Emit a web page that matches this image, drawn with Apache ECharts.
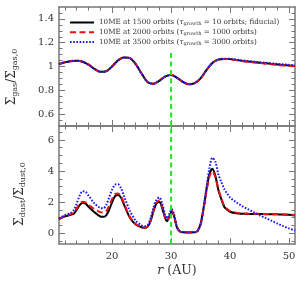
<!DOCTYPE html>
<html><head><meta charset="utf-8">
<script src="https://cdn.jsdelivr.net/npm/echarts@6/dist/echarts.min.js"></script>
<style>html,body{margin:0;padding:0;background:#fff}#c{width:299px;height:284px}</style>
</head><body><div id="c"></div>
<script>
const seriesNames = ['10ME at 1500 orbits', '10ME at 2000 orbits', '10ME at 3500 orbits'];
const legendTau = ['10 orbits; fiducial', '1000 orbits', '3000 orbits'];

const rGas = [11,12,13,14,15,16,17,18,19,20,21,22,23,24,25,26,27,28,29,30,31,32,33,34,35,36,37,38,39,40,41,42,43,44,45,46,47,48,49,50,51];
const gasBlack = [1.020,1.035,1.045,1.048,1.040,1.015,0.980,0.955,0.960,1.000,1.050,1.075,1.070,1.020,0.940,0.870,0.855,0.880,0.915,0.928,0.905,0.870,0.850,0.860,0.900,0.970,1.030,1.058,1.064,1.062,1.055,1.048,1.042,1.037,1.032,1.027,1.022,1.017,1.012,1.008,1.004];
const gasRed   = [1.020,1.036,1.046,1.049,1.041,1.016,0.981,0.956,0.961,1.002,1.052,1.076,1.071,1.021,0.941,0.871,0.856,0.882,0.917,0.930,0.906,0.871,0.851,0.861,0.901,0.970,1.030,1.058,1.064,1.061,1.054,1.046,1.040,1.034,1.029,1.024,1.019,1.014,1.009,1.005,1.001];
const gasBlue  = [1.021,1.036,1.046,1.048,1.040,1.015,0.980,0.955,0.960,1.001,1.051,1.075,1.070,1.020,0.940,0.870,0.855,0.881,0.916,0.929,0.906,0.871,0.851,0.861,0.901,0.971,1.031,1.059,1.066,1.064,1.058,1.051,1.046,1.041,1.036,1.031,1.027,1.022,1.018,1.014,1.010];

const rDust = [11,12,13,13.5,14,14.5,15,15.5,16,17,18,18.5,19,19.5,20,20.5,21,21.5,22,23,24,25,25.5,26,26.5,27,27.5,28,28.5,29,29.3,29.7,30.1,30.5,31,31.5,32,33,34,34.5,35,35.5,36,36.5,37,37.5,38,38.5,39,39.5,40,41,42,43,44,45,46,47,48,49,50,51];
const dustBlack = [0.90,1.08,1.18,1.25,1.50,1.80,1.95,1.90,1.70,1.35,1.07,1.05,1.15,1.50,2.00,2.38,2.45,2.30,1.85,1.00,0.55,0.38,0.34,0.40,0.75,1.40,1.90,2.00,1.60,0.95,0.77,1.05,1.40,1.10,0.35,0.10,0.05,0.04,0.05,0.15,0.60,1.60,2.80,3.80,4.15,3.70,2.80,2.20,1.70,1.50,1.38,1.28,1.25,1.24,1.23,1.23,1.22,1.22,1.21,1.20,1.18,1.14];
const dustRed   = [0.92,1.10,1.22,1.32,1.60,1.90,2.02,1.98,1.82,1.55,1.35,1.33,1.42,1.75,2.20,2.52,2.56,2.40,1.95,1.05,0.58,0.40,0.36,0.42,0.80,1.45,1.95,2.10,1.70,1.00,0.82,1.10,1.45,1.12,0.35,0.10,0.05,0.04,0.05,0.14,0.55,1.55,2.70,3.65,3.97,3.60,2.85,2.25,1.78,1.55,1.42,1.32,1.28,1.26,1.25,1.24,1.23,1.22,1.21,1.20,1.19,1.17];
const dustBlue  = [0.95,1.15,1.30,1.48,1.90,2.42,2.70,2.66,2.42,1.92,1.62,1.60,1.80,2.30,2.80,3.12,3.15,2.90,2.40,1.45,0.80,0.50,0.45,0.52,0.92,1.62,2.15,2.30,1.90,1.15,0.95,1.25,1.55,1.20,0.40,0.12,0.06,0.05,0.05,0.14,0.55,1.60,2.95,4.20,4.85,4.60,3.80,3.30,2.86,2.55,2.30,2.00,1.75,1.55,1.35,1.15,0.98,0.80,0.62,0.45,0.30,0.17];

const xMajor = [20,30,40,50];
const xMinor = [12,14,16,18,22,24,26,28,32,34,36,38,42,44,46,48];
const gasMajor = [0.6,0.8,1,1.2,1.4];
const gasMinor = [0.55,0.65,0.7,0.75,0.85,0.9,0.95,1.05,1.1,1.15,1.25,1.3,1.35,1.45];
const dustMajor = [0,2,4,6];
const dustMinor = [-0.5,0.5,1,1.5,2.5,3,3.5,4.5,5,5.5,6.5];
const vLineR = 30;
const vLineGasTop = 1.14;   // the dashed line stops below the legend box

const FONT = 'DejaVu Serif';
const FRAME = '#777';
const TXT = '#333';

function zip(a, b) { return a.map((v, i) => [v, b[i]]); }

const grids = [
  {left: 59, top: 7, width: 236, height: 119},
  {left: 59, top: 126, width: 236, height: 118}
];

const xAxes = [], yAxes = [];
const xr = {min: 11, max: 51};
const yr = [{min: 0.5, max: 1.5}, {min: -0.7, max: 6.9}];
const yMaj = [gasMajor, dustMajor], yMin = [gasMinor, dustMinor];

for (let g = 0; g < 2; g++) {
  ['bottom', 'top'].forEach(pos => {
    const showLabel = (g === 1 && pos === 'bottom');
    xAxes.push({
      type: 'value', gridIndex: g, position: pos, min: xr.min, max: xr.max,
      axisLine: {show: true, onZero: false, lineStyle: {color: FRAME, width: 1.5}},
      axisTick: {show: true, inside: true, length: 6, customValues: xMajor, lineStyle: {color: FRAME, width: 1}},
      axisLabel: {show: showLabel, customValues: xMajor, color: TXT, fontFamily: FONT, fontSize: 10, margin: 7},
      splitLine: {show: false},
      name: showLabel ? '{i|r} (AU)' : '',
      nameLocation: 'middle', nameGap: 20,
      nameTextStyle: {fontFamily: FONT, fontSize: 12.5, color: TXT, rich: {i: {fontFamily: FONT, fontStyle: 'italic', fontSize: 12.5, color: TXT}}}
    });
    xAxes.push({
      type: 'value', gridIndex: g, position: pos, min: xr.min, max: xr.max,
      axisLine: {show: false, onZero: false},
      axisTick: {show: true, inside: true, length: 3.5, customValues: xMinor, lineStyle: {color: FRAME, width: 1}},
      axisLabel: {show: false}, splitLine: {show: false}
    });
  });
  ['left', 'right'].forEach(pos => {
    const showLabel = pos === 'left';
    yAxes.push({
      type: 'value', gridIndex: g, position: pos, min: yr[g].min, max: yr[g].max,
      axisLine: {show: true, onZero: false, lineStyle: {color: FRAME, width: 1.5}},
      axisTick: {show: true, inside: true, length: 6, customValues: yMaj[g], lineStyle: {color: FRAME, width: 1}},
      axisLabel: {show: showLabel, customValues: yMaj[g], color: TXT, fontFamily: FONT, fontSize: 10, margin: 5},
      splitLine: {show: false}
    });
    yAxes.push({
      type: 'value', gridIndex: g, position: pos, min: yr[g].min, max: yr[g].max,
      axisLine: {show: false, onZero: false},
      axisTick: {show: true, inside: true, length: 3.5, customValues: yMin[g], lineStyle: {color: FRAME, width: 1}},
      axisLabel: {show: false}, splitLine: {show: false}
    });
  });
}

const styles = [
  {color: '#000', type: 'solid', width: 2},
  {color: '#ee1111', type: [6, 3.5], width: 2},
  {color: '#1a1aee', type: [1.6, 1.6], width: 2}
];
const gasData = [gasBlack, gasRed, gasBlue];
const dustData = [dustBlack, dustRed, dustBlue];

const series = [];
series.push({
  type: 'line', xAxisIndex: 0, yAxisIndex: 0, data: [[vLineR, yr[0].min], [vLineR, vLineGasTop]],
  showSymbol: false, symbol: 'none', lineStyle: {color: '#22e622', type: [5, 3.5], width: 2}, z: 6, silent: true, animation: false
});
series.push({
  type: 'line', xAxisIndex: 4, yAxisIndex: 4, data: [[vLineR, yr[1].min], [vLineR, yr[1].max]],
  showSymbol: false, symbol: 'none', lineStyle: {color: '#22e622', type: [5, 3.5], width: 2}, z: 6, silent: true, animation: false
});
for (let k = 0; k < 3; k++) {
  series.push({
    name: seriesNames[k], type: 'line', xAxisIndex: 0, yAxisIndex: 0,
    data: zip(rGas, gasData[k]), showSymbol: false, symbol: 'none', smooth: 0.3,
    lineStyle: styles[k], itemStyle: {color: styles[k].color}, z: 3 + k, silent: true, animation: false
  });
  series.push({
    name: seriesNames[k], type: 'line', xAxisIndex: 4, yAxisIndex: 4,
    data: zip(rDust, dustData[k]), showSymbol: false, symbol: 'none', smooth: 0.3,
    lineStyle: styles[k], itemStyle: {color: styles[k].color}, z: 3 + k, silent: true, animation: false
  });
}

const chart = echarts.init(document.getElementById('c'), null, {renderer: 'canvas'});
chart.setOption({
  animation: false,
  backgroundColor: '#fff',
  grid: grids,
  xAxis: xAxes,
  yAxis: yAxes,
  legend: {
    data: seriesNames, orient: 'vertical', left: 67, top: 17, z: 20,
    itemWidth: 24, itemHeight: 8, itemGap: 2.3, padding: [2, 2, 6, 2],
    selectedMode: false,
    itemStyle: {opacity: 0, borderWidth: 0},
    formatter: function (name) {
      const i = seriesNames.indexOf(name);
      return name + ' ({i|τ}{s|growth} = ' + legendTau[i] + ')';
    },
    textStyle: {fontFamily: FONT, fontSize: 7.2, color: TXT,
      rich: {i: {fontFamily: FONT, fontStyle: 'italic', fontSize: 7.2, color: TXT},
             s: {fontFamily: FONT, fontSize: 5, color: TXT, verticalAlign: 'bottom', padding: [3, 0, 0, 0]}}}
  },
  graphic: [
    {type: 'text', x: 12, y: 77, rotation: Math.PI / 2, silent: true,
      style: {text: 'Σ{s|gas}/Σ{s|gas,0}', fill: TXT, font: '12px "DejaVu Serif"', align: 'center', verticalAlign: 'middle',
        rich: {s: {fontFamily: FONT, fontSize: 8, fill: TXT, verticalAlign: 'bottom', padding: [6, 0, 0, 0]}}}},
    {type: 'text', x: 20, y: 194, rotation: Math.PI / 2, silent: true,
      style: {text: 'Σ{s|dust}/Σ{s|dust,0}', fill: TXT, font: '12px "DejaVu Serif"', align: 'center', verticalAlign: 'middle',
        rich: {s: {fontFamily: FONT, fontSize: 8, fill: TXT, verticalAlign: 'bottom', padding: [6, 0, 0, 0]}}}}
  ],
  series: series
});
</script></body></html>
